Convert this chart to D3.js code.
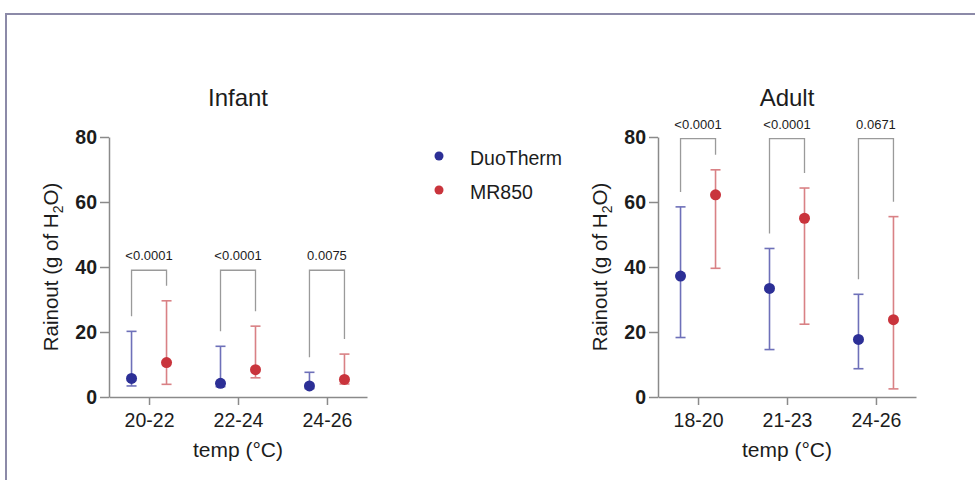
<!DOCTYPE html>
<html>
<head>
<meta charset="utf-8">
<script src="https://cdn.jsdelivr.net/npm/d3@7"></script>
<style>
  body { margin: 0; background: #fff; }
  text { font-family: "Liberation Sans", Arial, sans-serif; fill: #1c1c1c; }
</style>
</head>
<body>
<svg width="975" height="480"></svg>
<script>
// data
const series = ['DuoTherm', 'MR850']

const infantCats = ['20-22', '22-24', '24-26']
const infantDuoMean = [5.7, 4.2, 3.4]
const infantDuoLow = [3.4, 3.2, 2.6]
const infantDuoHigh = [20.2, 15.6, 7.6]
const infantMrMean = [10.6, 8.4, 5.4]
const infantMrLow = [3.9, 5.9, 4.0]
const infantMrHigh = [29.6, 21.8, 13.2]
const infantP = ['<0.0001', '<0.0001', '0.0075']
const infantBracket = 39

const adultCats = ['18-20', '21-23', '24-26']
const adultDuoMean = [37.2, 33.4, 17.7]
const adultDuoLow = [18.3, 14.6, 8.7]
const adultDuoHigh = [58.5, 45.7, 31.6]
const adultMrMean = [62.2, 55.0, 23.8]
const adultMrLow = [39.6, 22.4, 2.5]
const adultMrHigh = [69.9, 64.3, 55.5]
const adultP = ['<0.0001', '<0.0001', '0.0671']
const adultBracket = 79.5

const yTicks = [0, 20, 40, 60, 80]

const dotColor = { DuoTherm: '#2c2f96', MR850: '#c9343c' }
const barColor = { DuoTherm: '#5558ad', MR850: '#d36c70' }
const axisColor = '#8a8a8a'

const svg = d3.select('svg')

// frame round the figure
svg.append('path')
    .attr('d', 'M6,480 V14 H975')
    .attr('fill', 'none')
    .attr('stroke', '#8c8aa8')
    .attr('stroke-width', 2)

const y = d3.scaleLinear().domain([0, 80]).range([397, 137])
const inner = d3.scalePoint().domain(series).range([-17.5, 17.5])

function panel(left, title, cats, duo, mr, pvals, bracketTop) {
    const x = d3.scalePoint().domain(cats).range([left, left + 258]).padding(0.45)
    const g = svg.append('g')

    // y axis
    const ya = g.append('g')
        .attr('transform', `translate(${left},0)`)
        .call(d3.axisLeft(y).tickValues(yTicks).tickSize(9).tickSizeOuter(0).tickPadding(3))
    ya.selectAll('text').style('font-size', '19.5px').style('font-weight', 'bold')

    // x axis
    const xa = g.append('g')
        .attr('transform', `translate(0,${y(0)})`)
        .call(d3.axisBottom(x).tickSize(8).tickSizeOuter(0).tickPadding(8))
    xa.selectAll('text').style('font-size', '19.5px')

    g.selectAll('.domain, .tick line').attr('stroke', axisColor).attr('stroke-width', 1.5)

    g.append('text')
        .attr('x', left + 129).attr('y', 106)
        .attr('text-anchor', 'middle')
        .style('font-size', '24px')
        .text(title)

    g.append('text')
        .attr('x', left + 129).attr('y', 457)
        .attr('text-anchor', 'middle')
        .style('font-size', '21px')
        .text('temp (°C)')

    const yt = g.append('text')
        .attr('transform', `translate(${left - 51},${(y(0) + y(80)) / 2}) rotate(-90)`)
        .attr('text-anchor', 'middle')
        .style('font-size', '20.5px')
    yt.append('tspan').text('Rainout (g of H')
    yt.append('tspan').attr('dy', 5).style('font-size', '14px').text('2')
    yt.append('tspan').attr('dy', -5).text('O)')

    const rows = []
    cats.forEach((c, i) => {
        rows.push({ cat: c, s: 'DuoTherm', mean: duo[0][i], low: duo[1][i], high: duo[2][i] })
        rows.push({ cat: c, s: 'MR850', mean: mr[0][i], low: mr[1][i], high: mr[2][i] })
    })
    const px = d => x(d.cat) + inner(d.s)

    // brackets with p values
    cats.forEach((c, i) => {
        const xl = x(c) + inner('DuoTherm')
        const xr = x(c) + inner('MR850')
        const top = y(bracketTop)
        g.append('path')
            .attr('d', `M${xl},${y(duo[2][i]) - 15} V${top} H${xr} V${y(mr[2][i]) - 15}`)
            .attr('fill', 'none')
            .attr('stroke', '#9a9a9a')
            .attr('stroke-width', 1.3)
        g.append('text')
            .attr('x', x(c)).attr('y', top - 10)
            .attr('text-anchor', 'middle')
            .style('font-size', '13px')
            .text(pvals[i])
    })

    // error bars
    const eb = g.selectAll('.eb').data(rows).join('g')
        .attr('stroke', d => barColor[d.s])
        .attr('stroke-width', 1.6)
        .attr('opacity', 0.85)
    eb.append('line')
        .attr('x1', px).attr('x2', px)
        .attr('y1', d => y(d.low)).attr('y2', d => y(d.high))
    eb.append('line')
        .attr('x1', d => px(d) - 5).attr('x2', d => px(d) + 5)
        .attr('y1', d => y(d.high)).attr('y2', d => y(d.high))
    eb.append('line')
        .attr('x1', d => px(d) - 5).attr('x2', d => px(d) + 5)
        .attr('y1', d => y(d.low)).attr('y2', d => y(d.low))

    g.selectAll('.dot').data(rows).join('circle')
        .attr('cx', px)
        .attr('cy', d => y(d.mean))
        .attr('r', 5.5)
        .attr('fill', d => dotColor[d.s])
}

panel(109, 'Infant', infantCats,
    [infantDuoMean, infantDuoLow, infantDuoHigh],
    [infantMrMean, infantMrLow, infantMrHigh], infantP, infantBracket)

panel(658, 'Adult', adultCats,
    [adultDuoMean, adultDuoLow, adultDuoHigh],
    [adultMrMean, adultMrLow, adultMrHigh], adultP, adultBracket)

// legend
const legend = svg.append('g').attr('transform', 'translate(439,156)')
legend.selectAll('circle').data(series).join('circle')
    .attr('cy', (d, i) => i * 34)
    .attr('r', 4.5)
    .attr('fill', d => dotColor[d])
legend.selectAll('text').data(series).join('text')
    .attr('x', 31)
    .attr('y', (d, i) => i * 34 + 9)
    .style('font-size', '19.5px')
    .text(d => d)
</script>
</body>
</html>
